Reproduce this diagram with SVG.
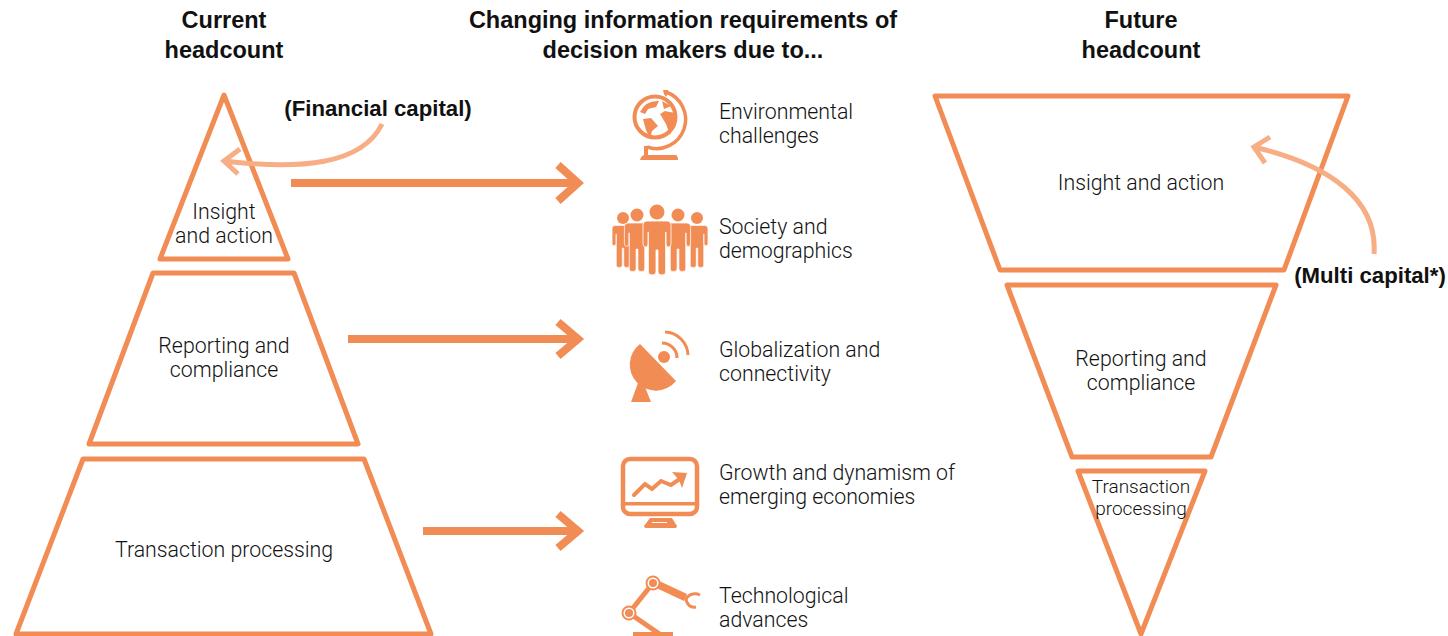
<svg xmlns="http://www.w3.org/2000/svg" xmlns:xlink="http://www.w3.org/1999/xlink" width="1448" height="636" viewBox="0 0 1448 636">
<style>
.h{font:bold 23.5px "Liberation Sans",Arial,sans-serif;fill:#111;text-anchor:middle}
.c{font:bold 22.2px "Liberation Sans",Arial,sans-serif;fill:#111;text-anchor:middle}
.t{font:300 21.3px Roboto,"Liberation Sans",sans-serif;fill:#111}
.s{font-size:19px}
.m{text-anchor:middle}
.p{fill:none;stroke:#f28c55;stroke-width:5;stroke-linejoin:round}
.a{fill:none;stroke:#f28c55;stroke-width:8}
.l{fill:none;stroke:#f7ae85;stroke-width:5}
.f{fill:#f28c55}
.w{fill:#fff}
.o{fill:none;stroke:#f28c55}
.b{fill:#f28c55;stroke:#fff;stroke-width:.8}
</style>
<defs>
<path id="person" d="M-10 0 H10 Q14 0 14 4 V23 Q14 26 11.5 26 Q9 26 9 23 V11 H8.6 V28 V51 Q8.6 54 5 54 Q1 54 1 51 V29 H-1 V51 Q-1 54 -5 54 Q-8.6 54 -8.6 51 V11 H-9 V23 Q-9 26 -11.5 26 Q-14 26 -14 23 V4 Q-14 0 -10 0 Z"/>
</defs>
<rect width="1448" height="636" fill="#fff"/>
<g id="headers">
<text class="h" x="224" y="28">Current</text><text class="h" x="224" y="58">headcount</text>
<text class="h" x="683" y="28">Changing information requirements of</text><text class="h" x="683" y="58">decision makers due to...</text>
<text class="h" x="1141" y="28">Future</text><text class="h" x="1141" y="58">headcount</text>
</g>
<g id="current-insight"><path class="p" d="M224 95 L288 259 L160 259 Z"/><text class="t m" x="224" y="219">Insight</text><text class="t m" x="224" y="243">and action</text></g>
<g id="current-reporting"><path class="p" d="M153 273 H294 L358 444 H89 Z"/><text class="t m" x="224" y="353">Reporting and</text><text class="t m" x="224" y="377">compliance</text></g>
<g id="current-transaction"><path class="p" d="M83 459 H364 L431 634 H16 Z"/><text class="t m" x="224" y="557">Transaction processing</text></g>
<g id="future-insight"><path class="p" d="M935 96 H1348 L1284 270 H1000 Z"/><text class="t m" x="1141" y="190">Insight and action</text></g>
<g id="future-reporting"><path class="p" d="M1007 285 H1276 L1211 457 H1072 Z"/><text class="t m" x="1141" y="366">Reporting and</text><text class="t m" x="1141" y="390">compliance</text></g>
<g id="future-transaction"><path class="p" d="M1078 471 H1205 L1141 634 Z"/><text class="t m s" x="1141" y="493">Transaction</text><text class="t m s" x="1141" y="515">processing</text></g>
<g id="connectors">
<path class="a" d="M291 183 H578 M558 165 L578 183 L558 201"/>
<path class="a" d="M348 339 H578 M558 322 L578 339 L558 356"/>
<path class="a" d="M423 531 H578 M558 514 L578 531 L558 548"/>
<path class="l" d="M382 124 C362 165 300 170 224 161 M240 149 L224 161 L238 174"/>
<path class="l" d="M1374 254 C1378 200 1330 165 1254 147 M1270 137 L1254 147 L1265 163"/>
</g>
<g id="callouts"><text class="c" x="378" y="116">(Financial capital)</text><text class="c" x="1370" y="283">(Multi capital*)</text></g>
<g id="environment">
<circle class="o" stroke-width="4" cx="655" cy="117" r="20.5"/>
<path class="o" stroke-width="3.5" d="M666 92 A27 27 0 0 1 647 147"/>
<path class="f" d="M640 112 Q646 100 659 101 L656 107 L648 109 L645 114 Z M643 119 L651 118 L658 126 L652 131 L650 139 L646 130 Z M660 114 L665 111 L675 113 L674 123 L670 135 L666 124 Z M662 101 L671 106 L664 109 Z"/>
<path class="f" d="M663 90 H668 V93 L666 97 L664 94 Z M644 146 H648 V155 H676 Q678 156 678 160 H640 Q641 156 644 155 Z"/>
<text class="t" x="719" y="119">Environmental</text><text class="t" x="719" y="143">challenges</text></g>
<g id="society">
<circle class="f" cx="623" cy="218" r="6"/><circle class="f" cx="637" cy="215" r="6.5"/><circle class="f" cx="657" cy="212" r="7.5"/><circle class="f" cx="678" cy="215" r="6.5"/><circle class="f" cx="697" cy="218" r="6"/>
<use href="#person" class="b" transform="translate(623 225.5) scale(.78)"/>
<use href="#person" class="b" transform="translate(697 225.5) scale(.78)"/>
<use href="#person" class="b" transform="translate(637 223) scale(.9)"/>
<use href="#person" class="b" transform="translate(678 223) scale(.9)"/>
<use href="#person" class="b" transform="translate(657 221)"/>
<text class="t" x="719" y="234">Society and</text><text class="t" x="719" y="258">demographics</text></g>
<g id="globalization"><path class="f" d="M640 344 L676 381 A26 26 0 1 1 640 344 Z"/><circle class="f" cx="664" cy="357" r="6"/>
<path class="o" stroke-width="3" d="M662 343 A15 15 0 0 1 677 358"/><path class="o" stroke-width="3" d="M665 332 A24 24 0 0 1 688 355"/>
<path class="f" d="M638 383 L645 387 L651 402 H631 Z"/>
<text class="t" x="719" y="357">Globalization and</text><text class="t" x="719" y="381">connectivity</text></g>
<g id="growth"><rect class="o" stroke-width="4.5" x="623" y="459" width="74" height="55" rx="7"/><path class="f" d="M623 502 H697 V505.5 H623 Z"/>
<path class="o" stroke-width="4" stroke-linecap="round" d="M634 495 L645 484 L652 489 L661 481 L671 485 L684 476"/>
<path class="f" d="M672 472 L687 473 L682 488 L679 480 Z"/>
<path class="f" d="M650 518 H672 L677 526 Q677 528 675 528 H646 Q644 528 644 526 Z"/><path class="w" d="M652 522 H667 V523 H652 Z"/>
<text class="t" x="719" y="480">Growth and dynamism of</text><text class="t" x="719" y="504">emerging economies</text></g>
<g id="technology"><path class="o" stroke-width="5" d="M629 613 L653 583 M629 613 L661 635"/><path class="f" d="M655 579 L687 594 L684 601 L652 586 Z"/><path class="o" stroke-width="3" d="M700 595 C694 592 687 595 686 600 C688 606 691 608 696 607"/>
<circle class="f" cx="629" cy="613" r="7.5"/><circle class="w" cx="629" cy="613" r="5.5"/><circle class="f" cx="629" cy="613" r="4"/>
<circle class="f" cx="653" cy="583" r="7.5"/><circle class="w" cx="653" cy="583" r="5.5"/><circle class="f" cx="653" cy="583" r="4"/>
<rect class="f" x="633" y="632" width="40" height="4"/>
<text class="t" x="719" y="603">Technological</text><text class="t" x="719" y="627">advances</text></g>
</svg>
